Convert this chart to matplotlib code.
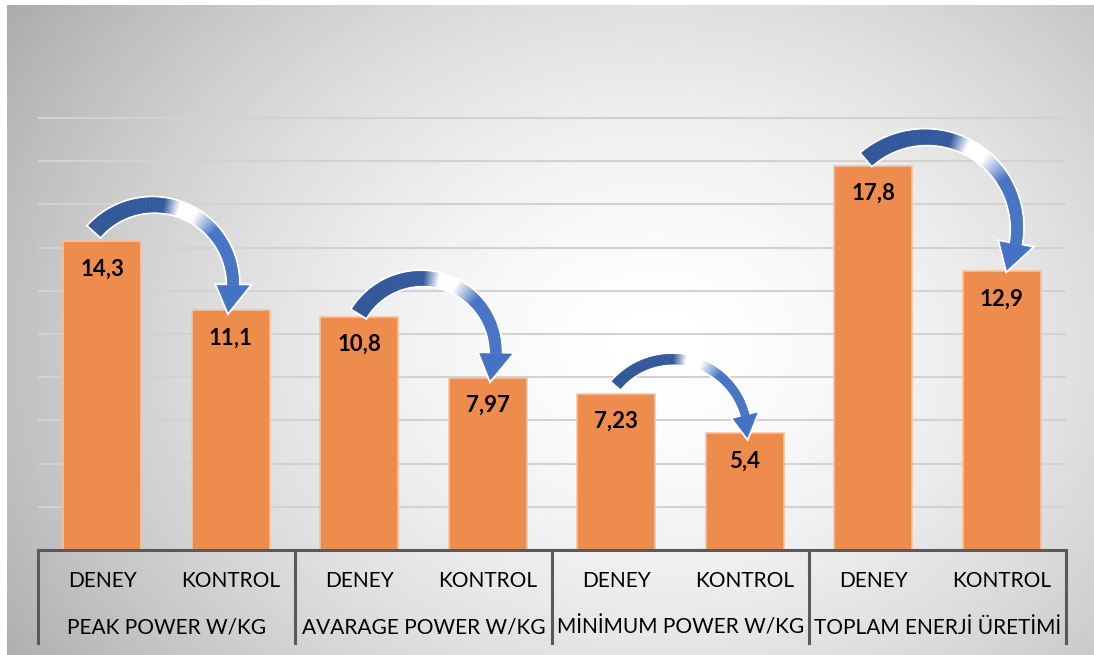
import numpy as np
import matplotlib.pyplot as plt
from matplotlib.patches import Polygon
from matplotlib.collections import PolyCollection
from matplotlib.colors import to_rgb

groups = ["PEAK POWER W/KG", "AVARAGE POWER W/KG", "MİNİMUM POWER W/KG", "TOPLAM ENERJİ ÜRETİMİ"]
subs = ["DENEY", "KONTROL"]
values = [14.3, 11.1, 10.8, 7.97, 7.23, 5.4, 17.8, 12.9]
value_labels = ["14,3", "11,1", "10,8", "7,97", "7,23", "5,4", "17,8", "12,9"]
grid_ticks = [2, 4, 6, 8, 10, 12, 14, 16, 18, 20]

# arrow tail / tip (data coords) and arc span in degrees
arrow_tails = [(-0.06, 14.77), (2.0, 10.97), (4.0, 7.64), (5.95, 18.1)]
arrow_tips = [(0.98, 11.02), (3.02, 7.87), (5.02, 5.2), (7.04, 12.96)]
arrow_spans = [158, 170, 142, 158]

plt.rcParams['font.family'] = ['Lato', 'DejaVu Sans']

fig = plt.figure(figsize=(10.94, 6.55), dpi=100)

# radial grey background like the excel chart area
bg = fig.add_axes([7 / 1094, 0, 1 - 7 / 1094, 1 - 5 / 655])
h, w = 650, 1087
yy, xx = np.mgrid[0:h, 0:w]
d = np.hypot(xx - 650, (yy - 340) * 1.25) / 620
shade = 1 - 0.23 * np.clip(d, 0, 1.3) ** 1.6
bg.imshow(shade, cmap='gray', vmin=0, vmax=1, aspect='auto', interpolation='bilinear')
bg.axis('off')

ax = fig.add_axes([38 / 1094, 1 - 550 / 655, (1066 - 38) / 1094, 540 / 655])
ax.patch.set_alpha(0)
x = np.arange(len(values))
ax.set_xlim(-0.5, len(values) - 0.5)
ax.set_ylim(0, 25)

for v in grid_ticks:
    ax.axhline(v, color='#D2D2D2', lw=1.5, zorder=1)

ax.bar(x, values, width=0.61, color='#EE8C4E', edgecolor='#F6C3A0', linewidth=1.2, zorder=3)

for xi, v, lab in zip(x, values, value_labels):
    ax.annotate(lab, (xi, v), xytext=(0, -20), textcoords='offset points',
                ha='center', va='center', fontsize=16, fontweight='bold', zorder=8)

# axis and group separators
ax.axhline(0, color='#595959', lw=2.2, zorder=4, clip_on=False)
for i in range(len(groups) + 1):
    xs = i * 2 - 0.5
    ax.plot([xs, xs], [0, -4.3], color='#595959', lw=2.2, clip_on=False, zorder=4)

for xi in x:
    ax.text(xi, -1.45, subs[xi % 2], ha='center', va='center', fontsize=15)
for i, g in enumerate(groups):
    ax.text(i * 2 + 0.5, -3.6, g, ha='center', va='center', fontsize=15)

# gradient stops along the arrow body: dark blue -> white -> blue
stops = [0, 0.40, 0.48, 0.57, 0.70, 1]
stop_cols = np.array([to_rgb(c) for c in
                      ['#2F5597', '#30589C', '#FFFFFF', '#FFFFFF', '#4472C4', '#4472C4']])


def curved_arrow(ax, tail, tip, span, w0, w1, hw, hl):
    # circular-arc block arrow, built in pixel space then mapped back to data
    T = ax.transData
    p0, p1 = T.transform([tail, tip])
    ch = p1 - p0
    c = np.hypot(*ch)
    half = np.radians(span) / 2
    r = c / (2 * np.sin(half))
    nrm = np.array([-ch[1], ch[0]]) / c
    ctr = (p0 + p1) / 2 - nrm * r * np.cos(half)
    a0 = np.arctan2(p0[1] - ctr[1], p0[0] - ctr[0])
    a1 = a0 - np.radians(span)
    ab = a1 + hl / r
    n = 140
    ang = np.linspace(a0, ab, n)
    wid = np.linspace(w0, w1, n)
    u = np.c_[np.cos(ang), np.sin(ang)]
    outer = ctr + (r + wid / 2)[:, None] * u
    inner = ctr + (r - wid / 2)[:, None] * u
    ub = np.array([np.cos(ab), np.sin(ab)])
    base_o = ctr + (r + hw / 2) * ub
    base_i = ctr + (r - hw / 2) * ub
    inv = T.inverted()

    full = np.vstack([outer, base_o, p1, base_i, inner[::-1]])
    ax.add_patch(Polygon(inv.transform(full), closed=True, fc='white', ec='white',
                         lw=3, zorder=5, joinstyle='miter'))

    quads, cols = [], []
    for i in range(n - 1):
        q = np.array([outer[i], outer[i + 1], inner[i + 1], inner[i]])
        quads.append(inv.transform(q))
        f = (i + 0.5) / (n - 1)
        cols.append([np.interp(f, stops, stop_cols[:, k]) for k in range(3)])
    ax.add_collection(PolyCollection(quads, facecolors=cols, edgecolors=cols,
                                     linewidths=0.4, zorder=6))
    head = np.array([base_o, p1, base_i])
    ax.add_patch(Polygon(inv.transform(head), closed=True, fc='#4472C4',
                         ec='#4472C4', lw=0.4, zorder=6))


for i, (tail, tip, span) in enumerate(zip(arrow_tails, arrow_tips, arrow_spans)):
    if i == 2:
        curved_arrow(ax, tail, tip, span, 11, 8, 25, 22)
    else:
        curved_arrow(ax, tail, tip, span, 16, 11, 32, 27)

ax.set_xticks([])
ax.set_yticks([])
for s in ax.spines.values():
    s.set_visible(False)

fig.savefig('out.png', dpi=100)
